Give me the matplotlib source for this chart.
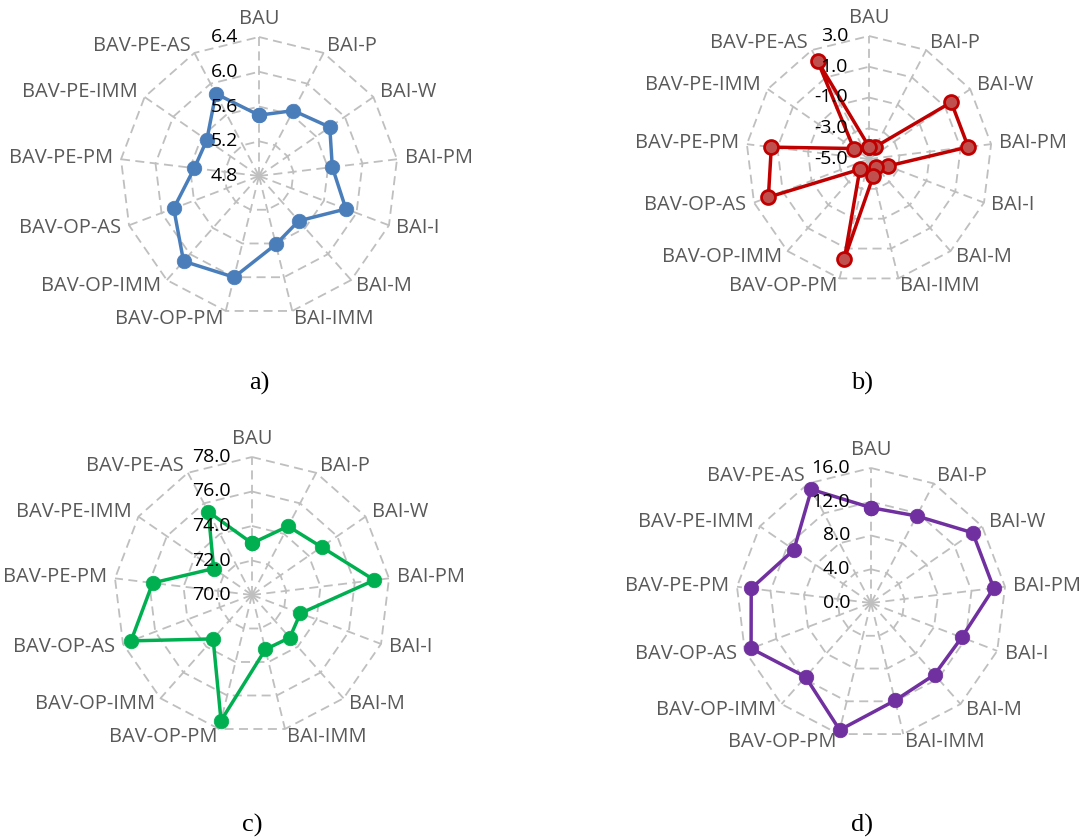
import numpy as np
import matplotlib
matplotlib.use("Agg")
import matplotlib.pyplot as plt
from matplotlib.transforms import offset_copy

categories = ["BAU", "BAI-P", "BAI-W", "BAI-PM", "BAI-I", "BAI-M", "BAI-IMM",
              "BAV-OP-PM", "BAV-OP-IMM", "BAV-OP-AS", "BAV-PE-PM", "BAV-PE-IMM", "BAV-PE-AS"]

values_a = [5.50, 5.65, 5.79, 5.65, 5.87, 5.49, 5.61, 6.00, 6.11, 5.85, 5.55, 5.53, 5.87]
values_b = [-4.2, -4.1, 1.5, 1.5, -3.7, -4.3, -3.85, 1.7, -4.1, 2.0, 1.4, -3.8, 2.2]
values_c = [73.0, 74.5, 74.9, 77.15, 73.0, 73.3, 73.25, 77.5, 73.4, 77.5, 75.8, 72.7, 75.45]
values_d = [11.3, 11.65, 14.65, 14.65, 11.5, 11.35, 11.9, 15.5, 11.7, 15.2, 14.3, 11.1, 15.2]

ticks_a = [4.8, 5.2, 5.6, 6.0, 6.4]
ticks_b = [-5.0, -3.0, -1.0, 1.0, 3.0]
ticks_c = [70.0, 72.0, 74.0, 76.0, 78.0]
ticks_d = [0.0, 4.0, 8.0, 12.0, 16.0]

labels_panel = ["a)", "b)", "c)", "d)"]

W, H = 1092, 839
fig = plt.figure(figsize=(W / 100, H / 100), dpi=100)

LABEL_FONT = ["Open Sans", "DejaVu Sans"]
GRID_COLOR = "#BFBFBF"
TEXT_GRAY = "#595959"


def radar(center, R, values, ticks, fmt, color, mfc, mec, msize, panel_label, label_pos):
    cx, cy = center
    ax = fig.add_axes([(cx - R) / W, (H - cy - R) / H, 2 * R / W, 2 * R / H],
                      projection="polar")
    n = len(categories)
    theta = np.arange(n) * 2 * np.pi / n
    ax.set_theta_zero_location("N")
    ax.set_theta_direction(-1)
    ax.set_ylim(ticks[0], ticks[-1])
    ax.grid(False)
    ax.set_xticks([])
    ax.set_yticks([])
    ax.spines["polar"].set_visible(False)
    ax.patch.set_alpha(0)

    tc = np.append(theta, theta[0])
    for t in ticks[1:]:
        ax.plot(tc, [t] * len(tc), ls=(0, (5, 3)), color=GRID_COLOR, lw=1.3,
                zorder=1, clip_on=False)
    for th in theta:
        ax.plot([th, th], [ticks[0], ticks[-1]], ls=(0, (5, 3)), color=GRID_COLOR,
                lw=1.3, zorder=1, clip_on=False)

    vals = list(values) + [values[0]]
    ax.plot(tc, vals, color=color, lw=2.5, marker="o", markersize=msize,
            markerfacecolor=mfc, markeredgecolor=mec,
            markeredgewidth=2.0 if mec != mfc else 0.5, zorder=3, clip_on=False)

    # radial tick labels
    tr = offset_copy(ax.transData, fig=fig, x=-21, y=0, units="dots")
    for t in ticks:
        ax.text(0, t, fmt.format(t), transform=tr, ha="right", va="center",
                fontsize=14, family=LABEL_FONT, color="black", zorder=4)

    # category labels
    gap = 8
    for th, cat in zip(theta, categories):
        s, c = np.sin(th), np.cos(th)
        ha = "left" if s > 0.15 else ("right" if s < -0.15 else "center")
        if abs(s) < 0.15:
            va, dx, dy = "bottom", 0, 8
        else:
            va, dx, dy = "center", gap * s, gap * c
        trc = offset_copy(ax.transData, fig=fig, x=dx, y=dy, units="dots")
        ax.text(th, ticks[-1], cat, transform=trc, ha=ha, va=va, fontsize=14.5,
                family=LABEL_FONT, color=TEXT_GRAY, clip_on=False)

    fig.text(label_pos[0] / W, 1 - label_pos[1] / H, panel_label, ha="center",
             va="center", fontsize=19, family=["Liberation Serif", "DejaVu Serif"])
    return ax


radar((259, 176), 139, values_a, ticks_a, "{:.1f}", "#4A7EBB", "#4A7EBB", "#4A7EBB", 10.5,
      labels_panel[0], (259, 383))
radar((869, 159), 123, values_b, ticks_b, "{:.1f}", "#C00000", "#C0504D", "#C00000", 10.0,
      labels_panel[1], (862, 383))
radar((252, 595), 138, values_c, ticks_c, "{:.1f}", "#00B050", "#00B050", "#00B050", 10.5,
      labels_panel[2], (252, 825))
radar((871, 603), 135, values_d, ticks_d, "{:.1f}", "#7030A0", "#7030A0", "#7030A0", 10.5,
      labels_panel[3], (862, 825))

fig.savefig("out.png", dpi=100, facecolor="white")
